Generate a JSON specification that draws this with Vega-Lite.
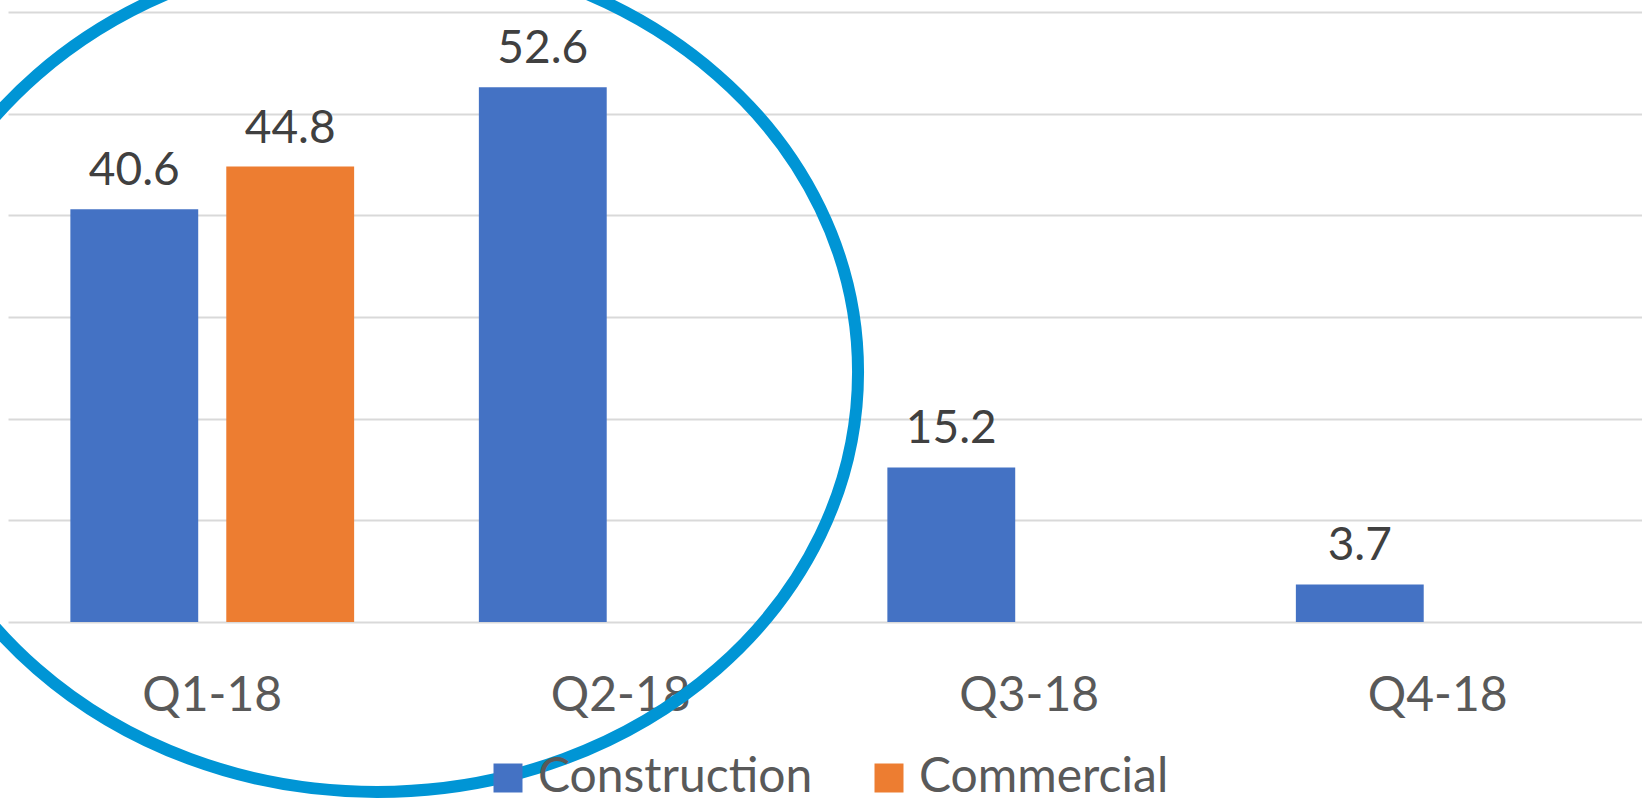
{
  "$schema": "https://vega.github.io/schema/vega-lite/v6.json",
  "autosize": {"type": "none"},
  "width": 1634,
  "height": 610,
  "padding": {"left": 8, "top": 12, "right": 0, "bottom": 178},
  "background": "white",
  "config": {
    "view": {"stroke": null},
    "font": "Lato"
  },
  "layer": [
    {
      "data": {
        "values": [
          {"quarter": "Q1-18", "series": "Construction", "value": 40.6},
          {"quarter": "Q1-18", "series": "Commercial", "value": 44.8},
          {"quarter": "Q2-18", "series": "Construction", "value": 52.6},
          {"quarter": "Q3-18", "series": "Construction", "value": 15.2},
          {"quarter": "Q4-18", "series": "Construction", "value": 3.7}
        ]
      },
      "encoding": {
        "x": {
          "field": "quarter", "type": "nominal", "sort": ["Q1-18", "Q2-18", "Q3-18", "Q4-18"],
          "scale": {"paddingInner": 0, "paddingOuter": 0},
          "axis": {
            "title": null, "domain": false, "ticks": false, "tickSize": 0, "grid": false,
            "labelFont": "Lato", "labelFontSize": 48, "labelColor": "#595959",
            "labelBaseline": "alphabetic", "labelPadding": 88, "labelAngle": 0
          }
        },
        "xOffset": {
          "field": "series", "type": "nominal", "sort": ["Construction", "Commercial"],
          "scale": {"paddingInner": 0.18, "paddingOuter": 0.4}
        },
        "y": {
          "field": "value", "type": "quantitative",
          "scale": {"domain": [0, 60], "nice": false},
          "axis": {
            "title": null, "labels": false, "ticks": false, "domain": false,
            "grid": true, "values": [0, 10, 20, 30, 40, 50, 60],
            "gridColor": "#d9d9d9", "gridWidth": 2
          }
        }
      },
      "layer": [
        {
          "mark": {"type": "bar"},
          "encoding": {
            "color": {
              "field": "series", "type": "nominal", "sort": ["Construction", "Commercial"],
              "scale": {"domain": ["Construction", "Commercial"], "range": ["#4472C4", "#ED7D31"]},
              "legend": {
                "title": null, "orient": "none", "direction": "horizontal",
                "legendX": 476, "legendY": 742,
                "symbolType": "square", "symbolSize": 841, "symbolStrokeWidth": 0,
                "labelFont": "Lato", "labelFontSize": 48, "labelColor": "#595959",
                "labelOffset": 6, "columnPadding": 52, "labelLimit": 0
              }
            }
          }
        },
        {
          "mark": {"type": "text", "baseline": "alphabetic", "dy": -24, "font": "Lato", "fontSize": 46, "color": "#404040"},
          "encoding": {
            "text": {"field": "value", "type": "quantitative", "format": ".1f"}
          }
        }
      ]
    },
    {
      "data": {"values": [{"quarter": "Q1-18", "value": 24.6}]},
      "mark": {
        "type": "point",
        "filled": false,
        "opacity": 1,
        "stroke": "#0095D5",
        "strokeWidth": 12,
        "size": 1000000,
        "shape": "M 1.2916 0 C 1.2916 0.4639 0.8609 0.84 0.3296 0.84 C -0.2017 0.84 -0.6324 0.4639 -0.6324 0 C -0.6324 -0.4639 -0.2017 -0.84 0.3296 -0.84 C 0.8609 -0.84 1.2916 -0.4639 1.2916 0 Z"
      },
      "encoding": {
        "x": {"field": "quarter", "type": "nominal"},
        "y": {"field": "value", "type": "quantitative"}
      }
    }
  ]
}
